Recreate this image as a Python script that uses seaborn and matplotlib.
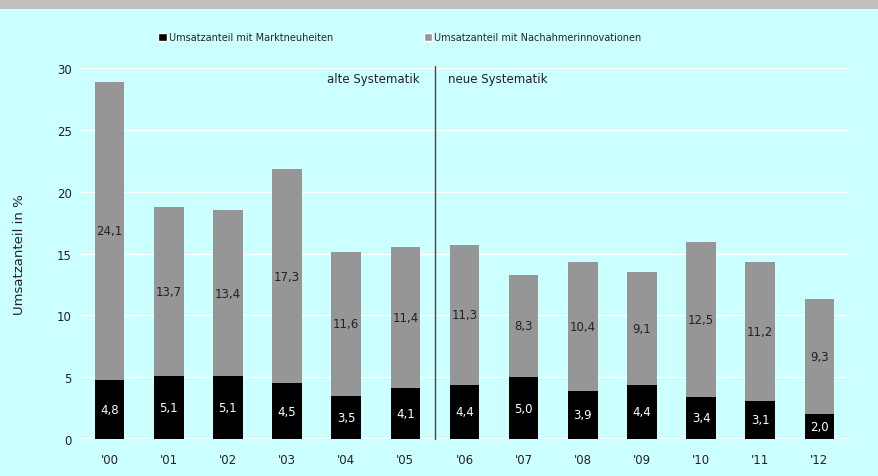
import numpy as np
import pandas as pd
import matplotlib
matplotlib.use("Agg")
import matplotlib.pyplot as plt
import seaborn as sns
from matplotlib.patches import Rectangle, Patch

# ── Daten ────────────────────────────────────────────────────
jahre = ["'00", "'01", "'02", "'03", "'04", "'05", "'06",
         "'07", "'08", "'09", "'10", "'11", "'12"]
marktneuheiten = [4.8, 5.1, 5.1, 4.5, 3.5, 4.1, 4.4, 5.0, 3.9, 4.4, 3.4, 3.1, 2.0]
nachahmer = [24.1, 13.7, 13.4, 17.3, 11.6, 11.4, 11.3, 8.3, 10.4, 9.1, 12.5, 11.2, 9.3]

df = pd.DataFrame({"jahr": jahre, "markt": marktneuheiten, "nach": nachahmer})
df["gesamt"] = df["markt"] + df["nach"]

BG = "#CCFFFF"
SCHWARZ = "#000000"
GRAU = "#969696"
TEXT = "#222222"

sns.set_style("white")
plt.rcParams["font.family"] = ["DejaVu Sans"]

fig = plt.figure(figsize=(8.79, 4.77), dpi=100)
fig.patch.set_facecolor(BG)
fig.patches.append(Rectangle((0, 1 - 10 / 477), 1, 10 / 477, transform=fig.transFigure,
                             facecolor="#C0C0C0", edgecolor="none", zorder=0))
ax = fig.add_axes([80 / 879, 1 - 440 / 477, 769 / 879, 371 / 477])
ax.set_facecolor(BG)

# gestapelte Balken: Gesamt (grau) hinten, Marktneuheiten (schwarz) vorne
sns.barplot(data=df, x="jahr", y="gesamt", color=GRAU, width=0.5,
            saturation=1, linewidth=0, ax=ax, zorder=2)
sns.barplot(data=df, x="jahr", y="markt", color=SCHWARZ, width=0.5,
            saturation=1, linewidth=0, ax=ax, zorder=3)

for i, row in df.iterrows():
    ax.text(i, row["markt"] / 2, f"{row['markt']:.1f}".replace(".", ","),
            ha="center", va="center", color="white", fontsize=8.5, zorder=4)
    ax.text(i, row["markt"] + row["nach"] / 2, f"{row['nach']:.1f}".replace(".", ","),
            ha="center", va="center", color=TEXT, fontsize=8.5, zorder=4)

ax.set_xlim(-0.5, len(jahre) - 0.5)
ax.set_ylim(0, 30)
ax.set_yticks([0, 5, 10, 15, 20, 25, 30])
ax.yaxis.grid(True, color="white", linewidth=1)
ax.set_axisbelow(True)
for s in ax.spines.values():
    s.set_visible(False)
ax.axhline(0, color="white", linewidth=1.2, zorder=1)
ax.tick_params(axis="both", length=0, labelsize=8.5, colors=TEXT, pad=6)
ax.tick_params(axis="x", pad=10)
ax.set_xlabel("")
ax.set_ylabel("Umsatzanteil in %", fontsize=9.5, color=TEXT, labelpad=22)

# Trennlinie alte / neue Systematik
ax.plot([5.5, 5.5], [0, 30.2], color="#444444", linewidth=1, clip_on=False, zorder=5)
ax.text(5.24, 29.7, "alte Systematik", ha="right", va="top", fontsize=8.5, color=TEXT)
ax.text(5.72, 29.7, "neue Systematik", ha="left", va="top", fontsize=8.5, color=TEXT)

handles = [Patch(facecolor=SCHWARZ, label="Umsatzanteil mit Marktneuheiten"),
           Patch(facecolor=GRAU, label="Umsatzanteil mit Nachahmerinnovationen")]
fig.legend(handles=handles, loc="center", bbox_to_anchor=(400 / 879, 1 - 38 / 477), ncol=2,
           frameon=False, fontsize=7, handlelength=0.9, handleheight=0.9,
           handletextpad=0.2, columnspacing=9.3)

fig.savefig("out.png", dpi=100, facecolor=fig.get_facecolor())
